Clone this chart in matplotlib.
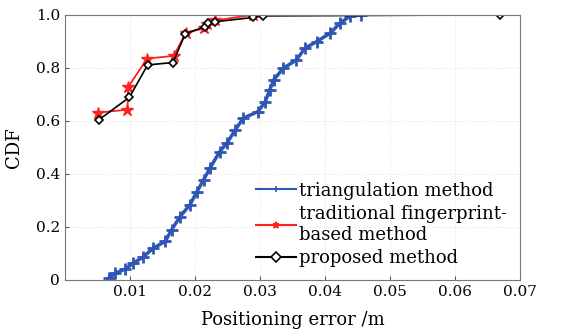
import matplotlib.pyplot as plt

# triangulation method (CDF)
tri_err = [0.0067, 0.0077, 0.0092, 0.0105, 0.0120, 0.0136, 0.0154, 0.0164, 0.0177,
           0.0192, 0.0203, 0.0213, 0.0223, 0.0238, 0.0249, 0.0262, 0.0274, 0.0297,
           0.0308, 0.0315, 0.0321, 0.0336, 0.0356, 0.0369, 0.0387, 0.0408, 0.0423,
           0.0438, 0.0455]
tri_cdf = [0.006, 0.025, 0.040, 0.063, 0.086, 0.120, 0.145, 0.189, 0.239,
           0.283, 0.333, 0.377, 0.422, 0.484, 0.516, 0.566, 0.610, 0.635,
           0.673, 0.717, 0.755, 0.799, 0.830, 0.874, 0.899, 0.931, 0.969,
           0.994, 1.0]

# traditional fingerprint-based method
fp_err = [0.0050, 0.0096, 0.0097, 0.0126, 0.0167, 0.0186, 0.0214, 0.0218, 0.0231, 0.0289]
fp_cdf = [0.631, 0.642, 0.727, 0.835, 0.845, 0.933, 0.949, 0.964, 0.979, 1.0]

# proposed method
prop_err = [0.0052, 0.0099, 0.0127, 0.0166, 0.0185, 0.0216, 0.0220, 0.0231, 0.0289, 0.0304, 0.0669]
prop_cdf = [0.604, 0.689, 0.811, 0.820, 0.929, 0.956, 0.968, 0.974, 0.990, 0.996, 1.0]

x_ticks = [0.01, 0.02, 0.03, 0.04, 0.05, 0.06, 0.07]
x_labels = ['0.01', '0.02', '0.03', '0.04', '0.05', '0.06', '0.07']
y_ticks = [0, 0.2, 0.4, 0.6, 0.8, 1.0]
y_labels = ['0', '0.2', '0.4', '0.6', '0.8', '1.0']

plt.rcParams['font.family'] = 'DejaVu Serif'
fig = plt.figure(figsize=(5.61, 3.30), dpi=100)
ax = fig.add_axes([0.116, 0.152, 0.811, 0.803])

ax.plot(tri_err, tri_cdf, color='#2f55b5', linewidth=2.5, marker='+', markersize=8,
        markeredgewidth=2, label='triangulation method')
ax.plot(fp_err, fp_cdf, color='#ff2020', linewidth=1.3, marker='*', markersize=9,
        label='traditional fingerprint-\nbased method')
ax.plot(prop_err, prop_cdf, color='black', linewidth=1.2, marker='D', markersize=4.5,
        markerfacecolor='white', markeredgewidth=1.2, label='proposed method')

ax.set_xlim(0, 0.07)
ax.set_ylim(0, 1.0)
ax.set_xticks(x_ticks)
ax.set_xticklabels(x_labels)
ax.set_yticks(y_ticks)
ax.set_yticklabels(y_labels)
ax.tick_params(direction='in', labelsize=11, length=3, color='#555555')
ax.grid(True, color='#dddddd', linestyle=':', linewidth=0.6)
for s in ax.spines.values():
    s.set_color('#777777')

ax.set_xlabel('Positioning error /m', fontsize=13, labelpad=9)
ax.set_ylabel('CDF', fontsize=13, labelpad=9)

leg = ax.legend(loc='lower right', frameon=False, fontsize=13, handlelength=2.2,
                handletextpad=0.2, labelspacing=0.3, borderaxespad=0.3,
                bbox_to_anchor=(1.0, 0.0))
for h in leg.legend_handles:
    h.set_markersize(5)
    h.set_linewidth(1.5)
    h.set_markeredgewidth(1.2)

fig.savefig('out.png', dpi=100)
